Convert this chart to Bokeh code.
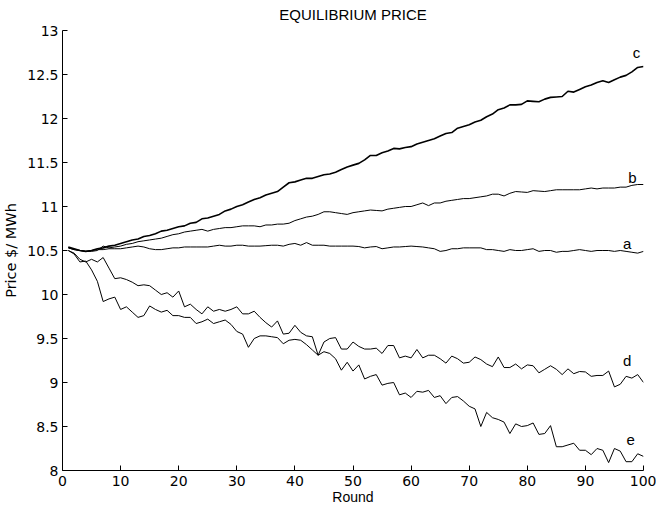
from bokeh.plotting import figure
from bokeh.models import Range1d, FixedTicker, ColumnDataSource, LinearAxis
from bokeh.core.properties import value
from bokeh.embed import file_html
from bokeh.resources import INLINE

rounds = list(range(1, 101))

price_a = [10.53, 10.51, 10.50, 10.49, 10.50, 10.51, 10.51, 10.52, 10.52, 10.52,
           10.53, 10.54, 10.55, 10.54, 10.52, 10.51, 10.51, 10.52, 10.53, 10.53,
           10.54, 10.54, 10.54, 10.54, 10.54, 10.55, 10.56, 10.55, 10.55, 10.56,
           10.56, 10.55, 10.55, 10.55, 10.555, 10.56, 10.56, 10.55, 10.57, 10.58,
           10.56, 10.59, 10.56, 10.56, 10.56, 10.55, 10.55, 10.55, 10.55, 10.55,
           10.545, 10.53, 10.54, 10.545, 10.52, 10.53, 10.54, 10.54, 10.545, 10.55,
           10.545, 10.54, 10.53, 10.52, 10.49, 10.50, 10.52, 10.52, 10.53, 10.53,
           10.53, 10.53, 10.51, 10.51, 10.50, 10.49, 10.51, 10.50, 10.50, 10.51,
           10.52, 10.49, 10.50, 10.50, 10.48, 10.49, 10.49, 10.50, 10.51, 10.50,
           10.49, 10.50, 10.50, 10.50, 10.49, 10.50, 10.49, 10.48, 10.47, 10.49]

price_b = [10.53, 10.51, 10.50, 10.49, 10.49, 10.50, 10.55, 10.53, 10.54, 10.55,
           10.57, 10.58, 10.60, 10.61, 10.62, 10.63, 10.64, 10.66, 10.68, 10.69,
           10.71, 10.72, 10.73, 10.74, 10.72, 10.74, 10.75, 10.76, 10.76, 10.77,
           10.78, 10.78, 10.78, 10.77, 10.79, 10.79, 10.80, 10.80, 10.81, 10.84,
           10.86, 10.88, 10.89, 10.91, 10.94, 10.94, 10.93, 10.92, 10.91, 10.93,
           10.94, 10.95, 10.96, 10.955, 10.95, 10.97, 10.98, 10.99, 11.00, 11.00,
           11.02, 11.04, 11.01, 11.04, 11.04, 11.06, 11.07, 11.08, 11.09, 11.09,
           11.10, 11.11, 11.12, 11.14, 11.14, 11.12, 11.15, 11.17, 11.165, 11.16,
           11.18, 11.175, 11.17, 11.18, 11.19, 11.19, 11.19, 11.19, 11.19, 11.20,
           11.21, 11.20, 11.21, 11.21, 11.21, 11.22, 11.22, 11.24, 11.25, 11.25]

price_c = [10.54, 10.52, 10.50, 10.49, 10.50, 10.52, 10.53, 10.55, 10.56, 10.58,
           10.60, 10.62, 10.63, 10.66, 10.67, 10.69, 10.72, 10.73, 10.75, 10.77,
           10.78, 10.81, 10.82, 10.86, 10.87, 10.89, 10.91, 10.95, 10.97, 11.00,
           11.02, 11.05, 11.08, 11.10, 11.13, 11.15, 11.17, 11.22, 11.27, 11.28,
           11.30, 11.32, 11.32, 11.34, 11.36, 11.37, 11.39, 11.42, 11.45, 11.47,
           11.49, 11.53, 11.58, 11.58, 11.61, 11.63, 11.66, 11.655, 11.67, 11.68,
           11.71, 11.73, 11.75, 11.77, 11.80, 11.83, 11.84, 11.89, 11.91, 11.93,
           11.96, 11.98, 12.02, 12.05, 12.10, 12.12, 12.155, 12.155, 12.16, 12.20,
           12.195, 12.19, 12.22, 12.24, 12.245, 12.25, 12.31, 12.30, 12.33, 12.36,
           12.38, 12.41, 12.43, 12.41, 12.44, 12.47, 12.49, 12.53, 12.58, 12.59]

price_d = [10.50, 10.47, 10.40, 10.37, 10.40, 10.37, 10.42, 10.30, 10.18, 10.19,
           10.17, 10.14, 10.10, 10.11, 10.10, 10.05, 10.00, 10.02, 9.97, 10.04,
           9.86, 9.89, 9.83, 9.78, 9.86, 9.81, 9.83, 9.81, 9.83, 9.86,
           9.78, 9.78, 9.81, 9.74, 9.68, 9.63, 9.70, 9.55, 9.56, 9.65,
           9.57, 9.53, 9.52, 9.31, 9.46, 9.50, 9.51, 9.38, 9.38, 9.46,
           9.41, 9.38, 9.38, 9.39, 9.33, 9.42, 9.42, 9.28, 9.30, 9.28,
           9.375, 9.28, 9.31, 9.31, 9.27, 9.22, 9.30, 9.27, 9.22, 9.23,
           9.29, 9.26, 9.21, 9.18, 9.29, 9.17, 9.17, 9.21, 9.155, 9.20,
           9.19, 9.11, 9.15, 9.19, 9.15, 9.09, 9.155, 9.10, 9.125, 9.12,
           9.07, 9.08, 9.08, 9.13, 8.95, 8.98, 9.07, 9.05, 9.09, 9.00]

price_e = [10.50, 10.46, 10.37, 10.38, 10.28, 10.15, 9.92, 9.95, 9.97, 9.83,
           9.86, 9.80, 9.74, 9.76, 9.87, 9.83, 9.80, 9.82, 9.76, 9.76,
           9.74, 9.74, 9.67, 9.69, 9.72, 9.67, 9.69, 9.71, 9.66, 9.58,
           9.55, 9.40, 9.50, 9.53, 9.53, 9.52, 9.51, 9.44, 9.48, 9.49,
           9.48, 9.43, 9.37, 9.31, 9.35, 9.33, 9.27, 9.14, 9.23, 9.13,
           9.20, 9.04, 9.07, 9.09, 8.97, 8.99, 9.00, 8.86, 8.88, 8.83,
           8.90, 8.89, 8.91, 8.83, 8.85, 8.76, 8.83, 8.84, 8.79, 8.73,
           8.70, 8.50, 8.66, 8.60, 8.58, 8.55, 8.42, 8.53, 8.50, 8.51,
           8.54, 8.41, 8.42, 8.51, 8.27, 8.27, 8.29, 8.31, 8.23, 8.23,
           8.18, 8.25, 8.23, 8.09, 8.25, 8.22, 8.10, 8.10, 8.19, 8.16]

series_names = ["a", "b", "c", "d", "e"]
label_x = [97.2, 98.1, 98.8, 97.2, 97.8]
label_y = [10.58, 11.33, 12.75, 9.25, 8.35]

x_ticks = list(range(0, 101, 10))
y_ticks = [8, 8.5, 9, 9.5, 10, 10.5, 11, 11.5, 12, 12.5, 13]
y_tick_labels = ["8", "8.5", "9", "9.5", "10", "10.5", "11", "11.5", "12", "12.5", "13"]

title_text = "EQUILIBRIUM PRICE"

FONT = "Liberation Sans"
TICK_FONT = "DejaVu Sans"

p = figure(width=656, height=507, output_backend="svg", toolbar_location=None,
           x_range=Range1d(0, 100), y_range=Range1d(8, 13),
           min_border_left=62, min_border_right=13, min_border_top=30,
           min_border_bottom=37, background_fill_color="white",
           border_fill_color="white")

bottom = p.below[0]
left = p.left[0]

p.outline_line_color = None
p.xgrid.visible = False
p.ygrid.visible = False

for ax in (bottom, left):
    ax.axis_line_color = "black"
    ax.major_tick_line_color = "black"
    ax.major_tick_in = 5
    ax.major_tick_out = 0
    ax.minor_tick_line_color = None
    ax.major_label_text_font = TICK_FONT
    ax.major_label_text_font_size = "14px"
    ax.major_label_text_color = "black"
    ax.axis_label_text_font = FONT
    ax.axis_label_text_font_size = "14px"
    ax.axis_label_text_font_style = "normal"
    ax.axis_label_text_color = "black"

left.axis_label_text_font = TICK_FONT
left.axis_label_text_font_size = "14.5px"

bottom.ticker = FixedTicker(ticks=x_ticks)
left.ticker = FixedTicker(ticks=y_ticks)
left.major_label_overrides = {t: s for t, s in zip(y_ticks, y_tick_labels)}
bottom.axis_label = "Round"
left.axis_label = "Price $/ MWh"
bottom.major_label_standoff = 5
left.major_label_standoff = 4
bottom.axis_label_standoff = 0
left.axis_label_standoff = 5

# Title rendered as the label of a bare axis above the frame
top = LinearAxis(axis_label=title_text, ticker=FixedTicker(ticks=[]),
                 axis_line_color=None, major_tick_line_color=None,
                 minor_tick_line_color=None, major_tick_in=0, major_tick_out=0,
                 minor_tick_in=0, minor_tick_out=0, major_label_standoff=0,
                 major_label_text_font_size="1px",
                 axis_label_standoff=8, axis_label_text_font=FONT,
                 axis_label_text_font_size="15px",
                 axis_label_text_font_style="normal",
                 axis_label_text_color="black")
p.add_layout(top, "above")

series = [price_a, price_b, price_c, price_d, price_e]
widths = [1.0, 1.0, 1.6, 1.0, 1.0]
for ys, w in zip(series, widths):
    p.line(rounds, ys, line_color="black", line_width=w)

src = ColumnDataSource(dict(x=label_x, y=label_y, t=series_names))
p.text(x="x", y="y", text="t", source=src, text_font=value(FONT),
       text_font_size="15px", text_align="center", text_baseline="middle",
       text_color="black")

open("out.html", "w").write(file_html(p, INLINE))
